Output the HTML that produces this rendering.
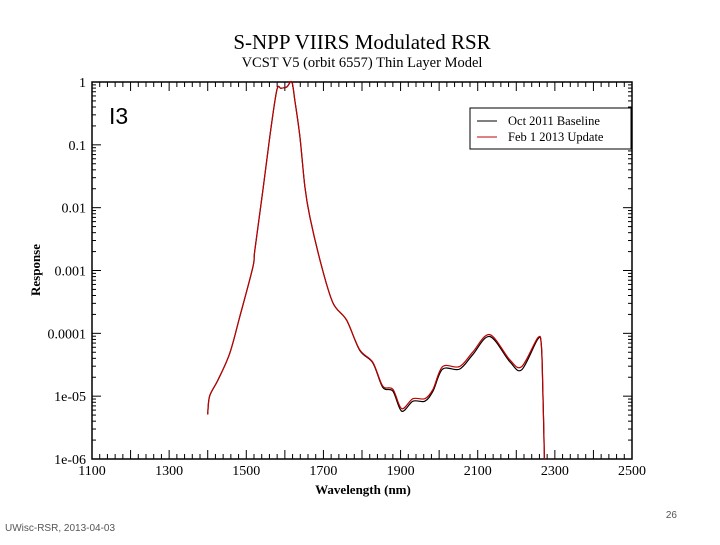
<!DOCTYPE html>
<html><head><meta charset="utf-8"><style>
body{margin:0;background:#fff;}
svg text{font-family:"Liberation Serif",serif;}
</style></head><body>
<svg id="c" width="720" height="540" xmlns="http://www.w3.org/2000/svg">
<text x="362" y="49" font-size="21" text-anchor="middle">S-NPP VIIRS Modulated RSR</text>
<text x="362" y="67" font-size="14.5" text-anchor="middle">VCST V5 (orbit 6557) Thin Layer Model</text>
<text x="109" y="124" font-size="23" style="font-family:'Liberation Sans',sans-serif">I3</text>
<text x="363" y="494" font-size="13" font-weight="bold" text-anchor="middle">Wavelength (nm)</text>
<text transform="translate(40,270) rotate(-90)" font-size="13" font-weight="bold" text-anchor="middle">Response</text>
<text x="5" y="531" font-size="10" fill="#555" style="font-family:'Liberation Sans',sans-serif">UWisc-RSR, 2013-04-03</text>
<text x="677" y="518" font-size="10" fill="#555" text-anchor="end" style="font-family:'Liberation Sans',sans-serif">26</text>
<g id="axes"></g>
<g id="series"></g>
<rect x="470" y="108" width="161" height="41" fill="#fff" stroke="#000"/>
<line x1="477" y1="121" x2="497" y2="121" stroke="#000"/>
<text x="508" y="125" font-size="12.5">Oct 2011 Baseline</text>
<line x1="477" y1="137" x2="497" y2="137" stroke="#c00000"/>
<text x="508" y="141" font-size="12.5">Feb 1 2013 Update</text>
</svg>
<script>
const wavelengths=[1400,1405,1426,1457,1483,1517,1522,1543,1561,1579,1590,1605,1618,1626,1639,1652,1665,1696,1725,1760,1794,1828,1854,1880,1903,1932,1963,1984,2009,2053,2087,2131,2183,2214,2256,2265,2269,2273];
const baselineLog=[-5.29,-5.0,-4.75,-4.32,-3.74,-2.95,-2.68,-1.72,-0.87,-0.13,-0.1,-0.08,0,-0.3,-0.87,-1.67,-2.15,-2.95,-3.52,-3.79,-4.27,-4.47,-4.86,-4.92,-5.24,-5.08,-5.08,-4.92,-4.57,-4.57,-4.34,-4.05,-4.45,-4.58,-4.09,-4.2,-4.95,-6.2];
const updateLog=[-5.29,-5.0,-4.75,-4.32,-3.74,-2.95,-2.68,-1.72,-0.87,-0.13,-0.1,-0.08,0,-0.3,-0.87,-1.67,-2.15,-2.95,-3.52,-3.79,-4.26,-4.46,-4.84,-4.89,-5.2,-5.04,-5.04,-4.89,-4.53,-4.53,-4.3,-4.02,-4.42,-4.53,-4.07,-4.2,-4.95,-6.2];
const xTicks=[1100,1300,1500,1700,1900,2100,2300,2500];
const yTickLabels=["1","0.1","0.01","0.001","0.0001","1e-05","1e-06"];
const X0=92,X1=632,Y0=82,Y1=459,XMIN=1100,XMAX=2500,LMAX=0,LMIN=-6;
const sx=v=>X0+(v-XMIN)/(XMAX-XMIN)*(X1-X0);
const sy=l=>Y0+(LMAX-l)/(LMAX-LMIN)*(Y1-Y0);
const NS="http://www.w3.org/2000/svg";
const ax=document.getElementById('axes'),se=document.getElementById('series');
function mk(tag,at,p){const e=document.createElementNS(NS,tag);for(const k in at)e.setAttribute(k,at[k]);p.appendChild(e);return e;}
const fr=mk('rect',{x:X0,y:Y0,width:X1-X0,height:Y1-Y0,fill:'none',stroke:'#000','stroke-width':1.5},ax);


for(let w=XMIN;w<=XMAX;w+=20){const x=sx(w),L=(w%100===0)?9:5;
 mk('line',{x1:x,y1:Y1,x2:x,y2:Y1-L,stroke:'#000'},ax);mk('line',{x1:x,y1:Y0,x2:x,y2:Y0+L,stroke:'#000'},ax);}
xTicks.forEach(w=>{const t=mk('text',{x:sx(w),y:Y1+16,'font-size':14,'text-anchor':'middle'},ax);t.textContent=w;
 
 });
for(let d=0;d<6;d++){for(let m=2;m<=9;m++){const y=sy(-d-1+Math.log10(m));
 mk('line',{x1:X0,y1:y,x2:X0+4,y2:y,stroke:'#000'},ax);mk('line',{x1:X1,y1:y,x2:X1-4,y2:y,stroke:'#000'},ax);}}
yTickLabels.forEach((s,i)=>{const y=sy(-i);
 mk('line',{x1:X0,y1:y,x2:X0+9,y2:y,stroke:'#000'},ax);mk('line',{x1:X1,y1:y,x2:X1-9,y2:y,stroke:'#000'},ax);
 const t=mk('text',{x:X0-6,y:y+5,'font-size':14,'text-anchor':'end'},ax);t.textContent=s;
 
 });
function path(arr){
 const p=arr.map((l,i)=>[sx(wavelengths[i]),Math.min(sy(l),Y1)]);
 let d='M'+p[0][0].toFixed(1)+','+p[0][1].toFixed(1);
 for(let i=0;i<p.length-1;i++){
  const a=p[Math.max(i-1,0)],b=p[i],c=p[i+1],e=p[Math.min(i+2,p.length-1)];
  const t=0.16;
  const c1=[b[0]+(c[0]-a[0])*t,b[1]+(c[1]-a[1])*t],c2=[c[0]-(e[0]-b[0])*t,c[1]-(e[1]-b[1])*t];
  d+='C'+[c1,c2,c].map(q=>q[0].toFixed(1)+','+Math.min(q[1],Y1).toFixed(1)).join(' ');
 }
 return d;}
const pb=mk('path',{d:path(baselineLog),fill:'none',stroke:'#000','stroke-width':1.2},se);


const pu=mk('path',{d:path(updateLog),fill:'none',stroke:'#c00000','stroke-width':1.2},se);


</script>
</body></html>
